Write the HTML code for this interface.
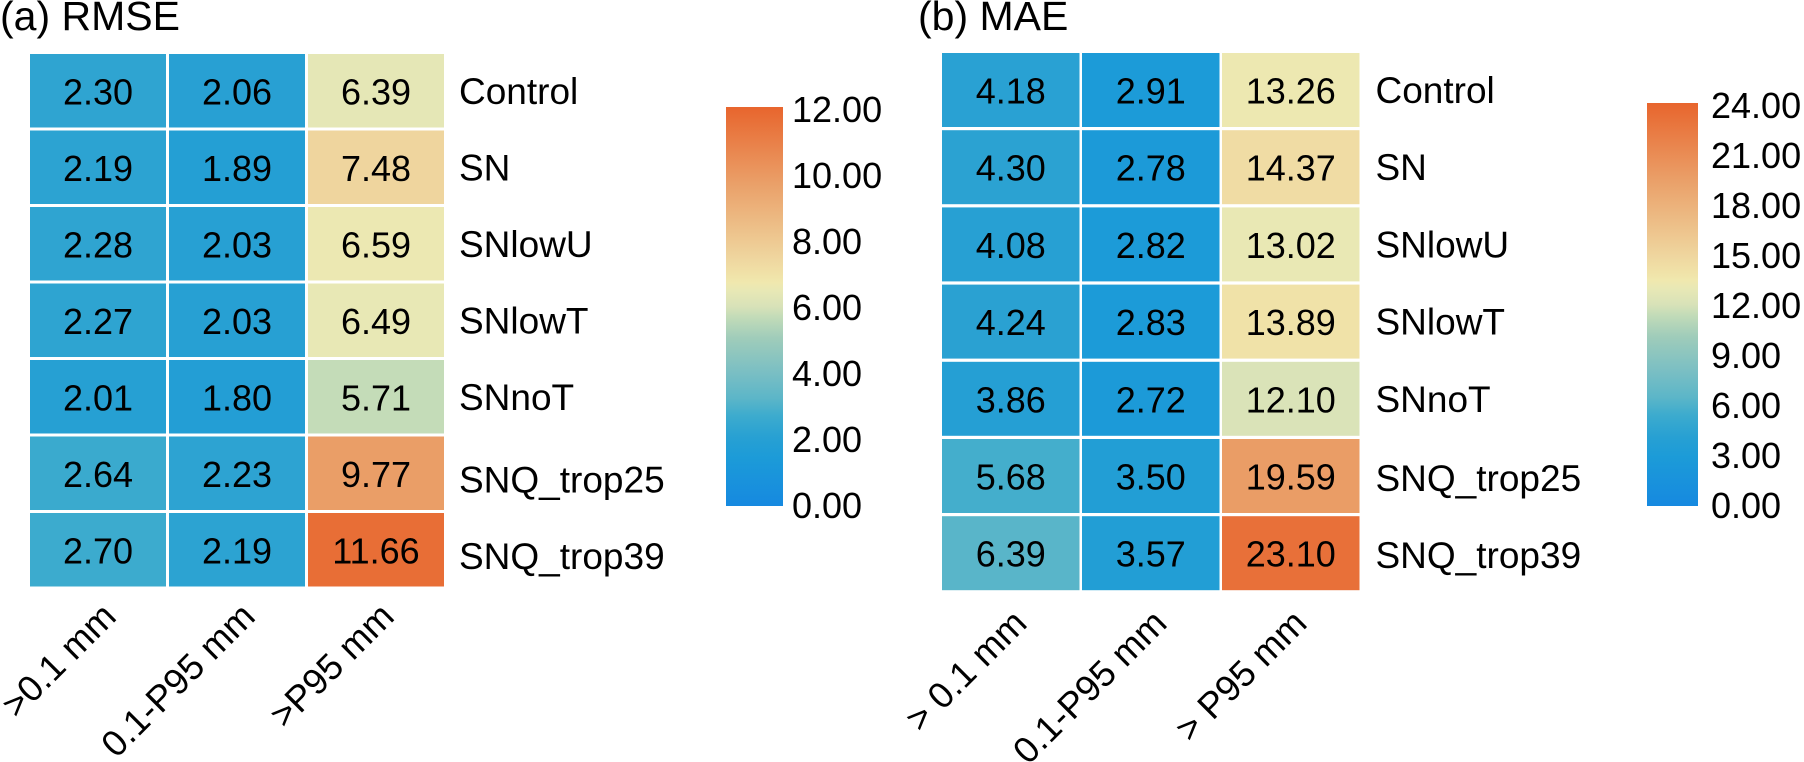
<!DOCTYPE html>
<html lang="en">
<head>
<meta charset="utf-8">
<title>RMSE and MAE heatmaps</title>
<style>
html,body{margin:0;padding:0;background:#fff;width:1804px;height:762px;overflow:hidden}
svg{display:block}
text{font-family:"Liberation Sans",Arial,sans-serif;fill:#000}
</style>
</head>
<body>
<svg id="chart" width="1804" height="762" viewBox="0 0 1804 762" xmlns="http://www.w3.org/2000/svg">
<defs>
<linearGradient id="scale-gradient" x1="0" y1="1" x2="0" y2="0"></linearGradient>
</defs>
</svg>
<script>
const rowLabels = ["Control","SN","SNlowU","SNlowT","SNnoT","SNQ_trop25","SNQ_trop39"];
const rmseColumns = [">0.1 mm","0.1-P95 mm",">P95 mm"];
const maeColumns = ["> 0.1 mm","0.1-P95 mm","> P95 mm"];
const rmseValues = [
  [2.30,2.06,6.39],
  [2.19,1.89,7.48],
  [2.28,2.03,6.59],
  [2.27,2.03,6.49],
  [2.01,1.80,5.71],
  [2.64,2.23,9.77],
  [2.70,2.19,11.66]
];
const maeValues = [
  [4.18,2.91,13.26],
  [4.30,2.78,14.37],
  [4.08,2.82,13.02],
  [4.24,2.83,13.89],
  [3.86,2.72,12.10],
  [5.68,3.50,19.59],
  [6.39,3.57,23.10]
];
const rmseTicks = [0,2,4,6,8,10,12];
const maeTicks = [0,3,6,9,12,15,18,21,24];
const colorFractions = [0,0.12,0.17,0.225,0.27,0.33,0.42,0.476,0.5,0.54,0.56,0.58,0.62,0.81,1];
const colorStops = ["#1689e0","#1c9bd8","#27a0d3","#3cabce","#5cb6c8","#78bec4","#9fccba","#c4dcb8","#d8e2b8","#e8e8b5","#f0e8ae","#f0e2a8","#efd69f","#ea9f68","#e8652d"];

const svg = document.getElementById("chart");
const NS = "http://www.w3.org/2000/svg";

function hexToRgb(hex){
  return [1,3,5].map(function(i){return parseInt(hex.substr(i,2),16);});
}
function colorFor(fraction){
  const f = Math.max(0,Math.min(1,fraction));
  for(let i=1;i<colorFractions.length;i++){
    if(f<=colorFractions[i]){
      const t=(f-colorFractions[i-1])/(colorFractions[i]-colorFractions[i-1]);
      const a=hexToRgb(colorStops[i-1]);
      const b=hexToRgb(colorStops[i]);
      return "rgb("+a.map(function(c,k){return Math.round(c+(b[k]-c)*t);}).join(",")+")";
    }
  }
  return colorStops[colorStops.length-1];
}
const gradient = document.getElementById("scale-gradient");
colorFractions.forEach(function(f,i){
  const stop=document.createElementNS(NS,"stop");
  stop.setAttribute("offset",f);
  stop.setAttribute("stop-color",colorStops[i]);
  gradient.appendChild(stop);
});

function makeText(parent,str,x,y,size,anchor){
  const t=document.createElementNS(NS,"text");
  t.setAttribute("x",x);
  t.setAttribute("y",y);
  t.setAttribute("font-size",size);
  t.setAttribute("text-anchor",anchor);
  t.textContent=str;
  parent.appendChild(t);
  return t;
}

function drawPanel(p){
  const g=document.createElementNS(NS,"g");
  
  
  svg.appendChild(g);

  const title=makeText(g,p.title,p.titleX,30,41,"start");
  
  

  const maxValue=p.ticks[p.ticks.length-1];
  const xOf=function(c){return p.x0+c*p.pitchX;};
  const yOf=function(r){return p.y0+r*p.pitchY;};

  p.values.forEach(function(row,r){
    row.forEach(function(v,c){
      const rect=document.createElementNS(NS,"rect");
      rect.setAttribute("x",xOf(c));
      rect.setAttribute("y",yOf(r));
      rect.setAttribute("width",p.cellW);
      rect.setAttribute("height",p.cellH);
      rect.setAttribute("fill",colorFor(v/maxValue));
      
      
      g.appendChild(rect);
      const label=makeText(g,v.toFixed(2),xOf(c)+p.cellW/2,yOf(r)+p.cellH/2+13.5,36,"middle");
      
      
    });
  });

  rowLabels.forEach(function(name,r){
    const extra=r>=5?p.lastRowsDy:0;
    const label=makeText(g,name,p.rowLabelX,yOf(r)+p.cellH/2+13+extra,37,"start");
    
    
  });

  p.columns.forEach(function(name,c){
    const ex=xOf(c)+p.cellW/2+p.colEndDx;
    const ey=yOf(p.values.length-1)+p.cellH+p.colEndDy;
    const label=makeText(g,name,ex,ey,36.5,"end");
    label.setAttribute("transform","rotate(-45 "+ex+" "+ey+")");
    
    
  });

  const bar=document.createElementNS(NS,"rect");
  bar.setAttribute("x",p.barX);
  bar.setAttribute("y",p.barTop);
  bar.setAttribute("width",p.barW);
  bar.setAttribute("height",p.barBottom-p.barTop);
  bar.setAttribute("fill","url(#scale-gradient)");
  
  
  g.appendChild(bar);

  p.ticks.forEach(function(v){
    const y=p.tickBase-(v/maxValue)*p.tickSpan;
    const label=makeText(g,v.toFixed(2),p.tickX,y,36,"start");
    
    
  });
}

drawPanel({name:"rmse",title:"(a) RMSE",titleX:0,values:rmseValues,columns:rmseColumns,ticks:rmseTicks,
  x0:30,y0:54,pitchX:139,pitchY:76.5,cellW:136,cellH:73.5,rowLabelX:459,lastRowsDy:6,
  colEndDx:20,colEndDy:32,barX:726,barW:57,barTop:107,barBottom:506,tickX:792,tickBase:518,tickSpan:396});
drawPanel({name:"mae",title:"(b) MAE",titleX:918,values:maeValues,columns:maeColumns,ticks:maeTicks,
  x0:942,y0:53,pitchX:140,pitchY:77.2,cellW:137.5,cellH:74,rowLabelX:1375.5,lastRowsDy:2,
  colEndDx:18,colEndDy:35,barX:1647,barW:51,barTop:103,barBottom:506,tickX:1711,tickBase:518,tickSpan:400});
</script>
</body>
</html>
